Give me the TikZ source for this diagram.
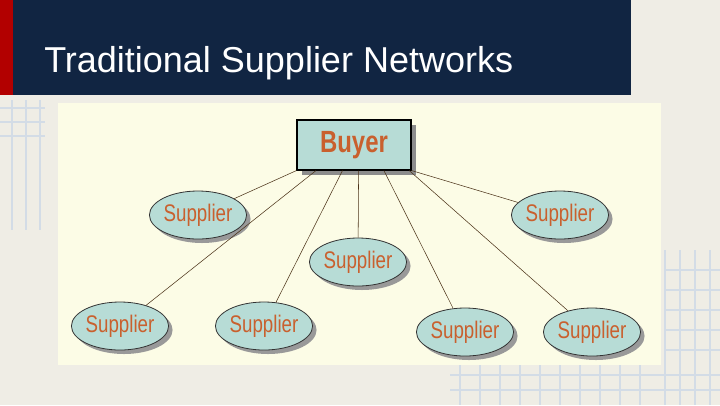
\documentclass[tikz,border=0pt]{standalone}
\usepackage{fontspec}
\setmainfont{Liberation Sans}
\newfontfamily\narrowfont[FakeStretch=0.78]{Liberation Sans}
\usetikzlibrary{shapes.geometric,calc,shadows}
\definecolor{navy}{HTML}{112542}
\definecolor{slidebg}{HTML}{EFEDE5}
\definecolor{panel}{HTML}{FCFCE6}
\definecolor{teal}{HTML}{B7DCD6}
\definecolor{rust}{HTML}{C9602E}
\definecolor{gridblue}{HTML}{D3DCE6}
\tikzset{
    buyerbox/.style={draw=black, thick, fill=teal, minimum width=85.5pt, minimum height=37.5pt,
        text=rust, font=\narrowfont\bfseries\fontsize{23}{23}\selectfont,
        drop shadow={shadow xshift=3.5pt, shadow yshift=-3.5pt, fill=gray!90, opacity=1}},
    supplier/.style={ellipse, draw=black!80, semithick, fill=teal, minimum width=67pt, minimum height=36pt,
        inner sep=0pt, text=rust, font=\narrowfont\fontsize{18}{18}\selectfont,
        drop shadow={shadow xshift=3pt, shadow yshift=-3pt, fill=gray!80, opacity=1}},
    link/.style={draw=black!60!brown, thin}
}
\begin{document}
\begin{tikzpicture}[x=0.75pt, y=-0.75pt]

    % slide background and header
    \fill[slidebg] (0,0) rectangle (720,405);
    \useasboundingbox (0,0) rectangle (720,405);
    \foreach \y in {108,122,136} \draw[gridblue, thick] (0,\y) -- (45,\y);
    \foreach \x in {12,26,40} \draw[gridblue, thick] (\x,100) -- (\x,230);
    \foreach \x in {665,680,695,710} \draw[gridblue, thick] (\x,250) -- (\x,405);
    \foreach \y in {270,290,310,330,350} \draw[gridblue, thick] (665,\y) -- (720,\y);
    \foreach \x in {460,480,...,640} \draw[gridblue, thick] (\x,365) -- (\x,405);
    \foreach \y in {375,390} \draw[gridblue, thick] (450,\y) -- (720,\y);
    \fill[navy] (0,0) rectangle (631,95);
    \fill[red!70!black] (0,0) rectangle (13,95);
    \node[anchor=base west, inner sep=0pt, text=white, font=\fontsize{27}{27}\selectfont] (title) at (44,72) {Traditional Supplier Networks};

    % diagram panel
    \fill[panel] (58,103) rectangle (661,365);

    % buyer and suppliers
    \node[buyerbox] (buyer) at (354,145) {Buyer};
    \node[supplier] (s1) at (198,215) {Supplier};
    \node[supplier] (s2) at (560,215) {Supplier};
    \node[supplier] (s3) at (358,262) {Supplier};
    \node[supplier] (s4) at (120,326) {Supplier};
    \node[supplier] (s5) at (264,326) {Supplier};
    \node[supplier] (s6) at (465,332) {Supplier};
    \node[supplier] (s7) at (592,332) {Supplier};

    % links from the buyer
    \draw[link] (buyer.south west) -- (s1);
    \draw[link] ($(buyer.south west)!0.17!(buyer.south east)$) -- (s4);
    \draw[link] ($(buyer.south west)!0.40!(buyer.south east)$) -- (s5);
    \draw[link] ($(buyer.south west)!0.54!(buyer.south east)$) -- (s3);
    \draw[link] ($(buyer.south west)!0.76!(buyer.south east)$) -- (s6);
    \draw[link] ($(buyer.south west)!0.98!(buyer.south east)$) -- (s7);
    \draw[link] (buyer.south east) -- (s2);

\end{tikzpicture}
\end{document}
